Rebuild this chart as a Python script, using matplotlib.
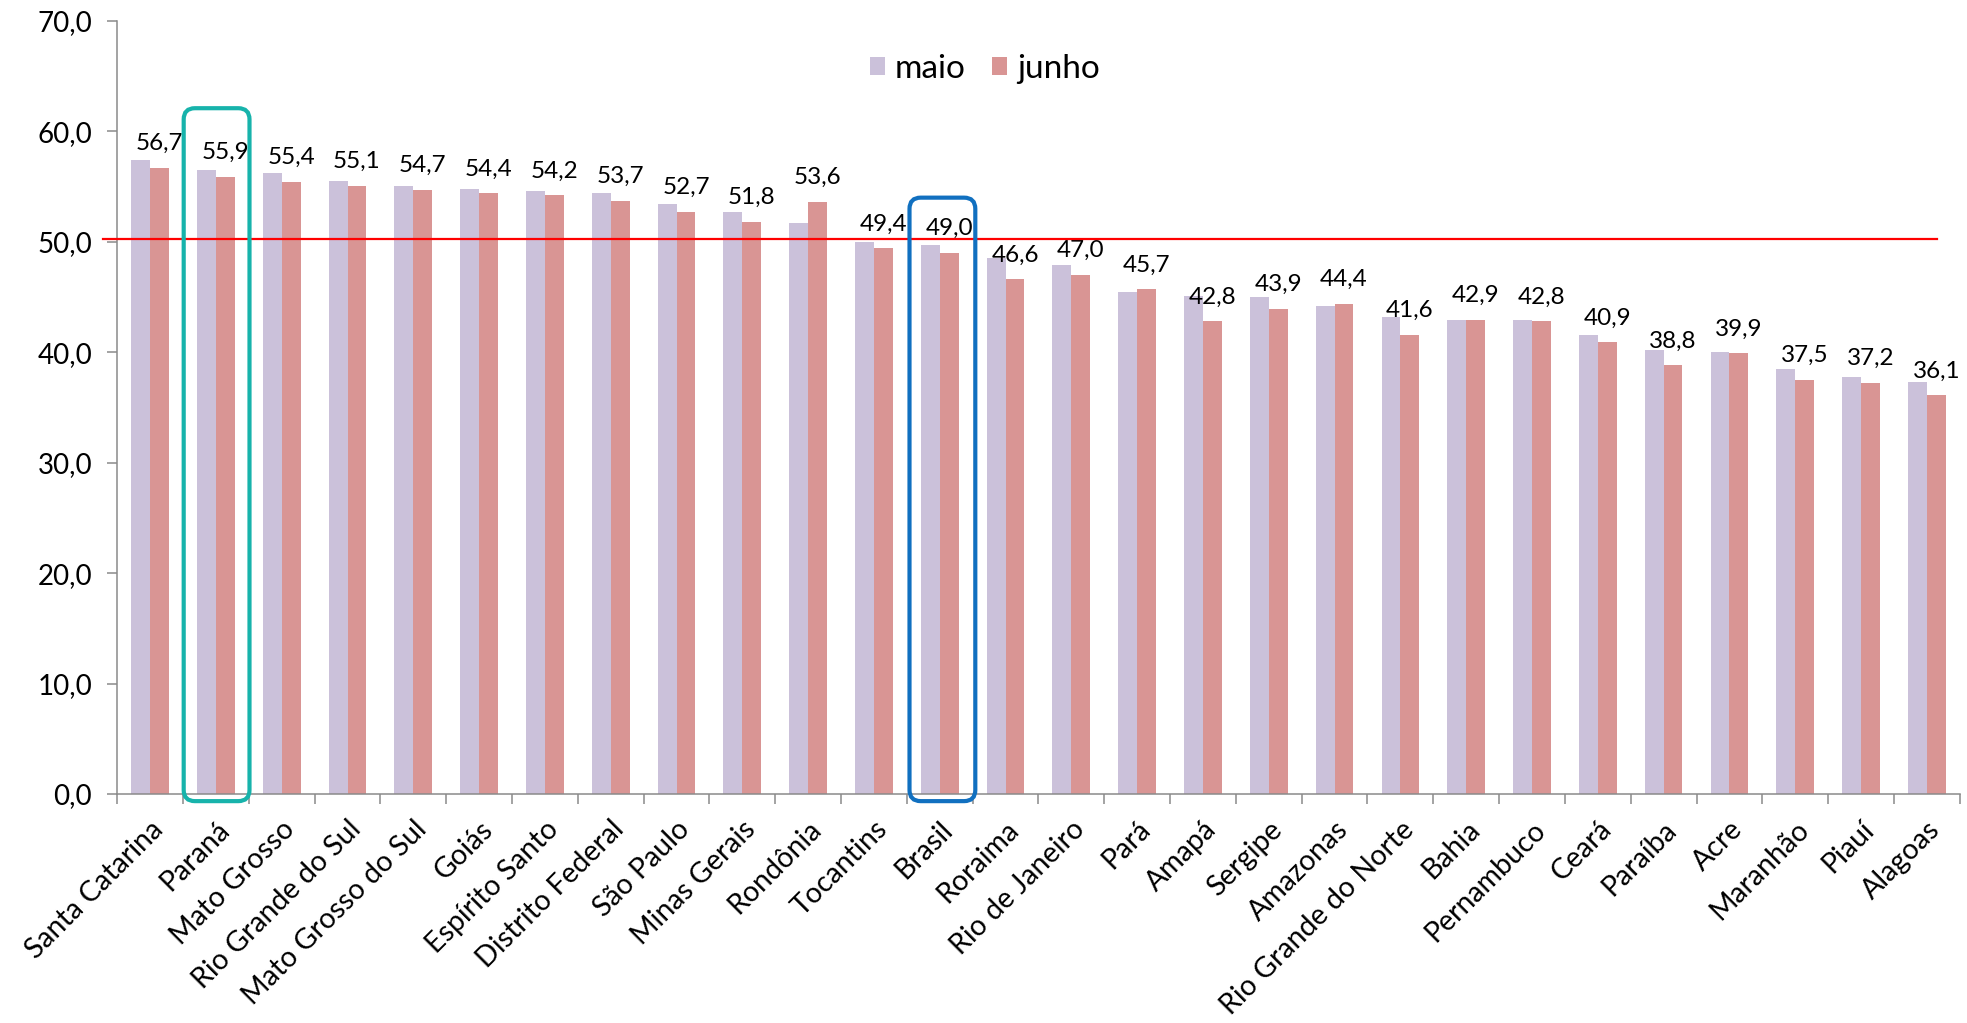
import matplotlib
matplotlib.use("Agg")
import matplotlib.pyplot as plt
from matplotlib.patches import FancyBboxPatch
import numpy as np

plt.rcParams['font.family'] = ['Lato', 'DejaVu Sans']

estados = ["Santa Catarina", "Paraná", "Mato Grosso", "Rio Grande do Sul",
           "Mato Grosso do Sul", "Goiás", "Espírito Santo", "Distrito Federal",
           "São Paulo", "Minas Gerais", "Rondônia", "Tocantins", "Brasil",
           "Roraima", "Rio de Janeiro", "Pará", "Amapá", "Sergipe", "Amazonas",
           "Rio Grande do Norte", "Bahia", "Pernambuco", "Ceará", "Paraíba",
           "Acre", "Maranhão", "Piauí", "Alagoas"]
maio = [57.4, 56.5, 56.2, 55.5, 55.1, 54.8, 54.6, 54.4, 53.4, 52.7, 51.7,
        50.0, 49.7, 48.5, 47.9, 45.5, 45.1, 45.0, 44.2, 43.2, 42.9, 42.9,
        41.6, 40.2, 40.0, 38.5, 37.8, 37.3]
junho = [56.7, 55.9, 55.4, 55.1, 54.7, 54.4, 54.2, 53.7, 52.7, 51.8, 53.6,
         49.4, 49.0, 46.6, 47.0, 45.7, 42.8, 43.9, 44.4, 41.6, 42.9, 42.8,
         40.9, 38.8, 39.9, 37.5, 37.2, 36.1]
referencia = 50.3

# caixas de destaque: estado, cor, deslocamento em x, topo
destaques = [("Paraná", "#17B3AB", -0.49, 62.1),
             ("Brasil", "#1170C0", -0.46, 54.0)]

cor_maio = "#CBC1DA"
cor_junho = "#D99594"
cinza = "#8A8A8A"

fig = plt.figure(figsize=(19.67, 10.23), dpi=100)
ax = fig.add_axes([0.0596, 0.2239, 0.9367, 0.7556])

x = np.arange(len(estados))
w = 0.287
ax.bar(x - w / 2, maio, w, color=cor_maio, label="maio")
ax.bar(x + w / 2, junho, w, color=cor_junho, label="junho")

# rótulos com o valor de junho
for xi, v in zip(x, junho):
    ax.annotate(f"{v:.1f}".replace(".", ","), (xi + w / 2, v),
                xytext=(0, 10), textcoords="offset points",
                ha="center", va="bottom", fontsize=17.5, color="black")

ax.set_xlim(-0.5, len(estados) - 0.5)
ax.set_ylim(0, 70)
ax.set_yticks(np.arange(0, 71, 10))
ax.set_yticklabels([f"{t:.1f}".replace(".", ",") for t in np.arange(0, 71, 10)])
ax.tick_params(axis="y", length=7, width=1.1, color=cinza, pad=11, labelsize=20)

# traços entre categorias, nomes nos centros
ax.set_xticks(np.arange(-0.5, len(estados), 1.0))
ax.set_xticklabels([])
ax.set_xticks(x, minor=True)
ax.set_xticklabels(estados, minor=True, rotation=45, ha="right", va="top",
                   rotation_mode="anchor", fontsize=20.5)
ax.tick_params(axis="x", which="major", length=7, width=1.1, color=cinza)
ax.tick_params(axis="x", which="minor", length=0, pad=16)

for s in ["top", "right"]:
    ax.spines[s].set_visible(False)
for s in ["left", "bottom"]:
    ax.spines[s].set_color(cinza)
    ax.spines[s].set_linewidth(1.1)

# linha de referência
ax.plot([-0.72, 27.15], [referencia, referencia], color="#FF0000", lw=1.6,
        clip_on=False, zorder=4)

asp = (1842.4 / 28) / (773 / 70)
for nome, cor, dx, topo in destaques:
    i = estados.index(nome)
    caixa = FancyBboxPatch((i + dx, -0.65), 1.0, topo + 0.65,
                           boxstyle="round,pad=0,rounding_size=0.17",
                           mutation_aspect=asp, fill=False, edgecolor=cor,
                           lw=3, clip_on=False, zorder=5)
    ax.add_patch(caixa)

ax.legend(loc="center", bbox_to_anchor=(0.471, 0.938), ncol=2, frameon=False,
          fontsize=24, handlelength=0.45, handleheight=0.45,
          handletextpad=0.3, columnspacing=0.8)

fig.savefig("out.png", dpi=100)
